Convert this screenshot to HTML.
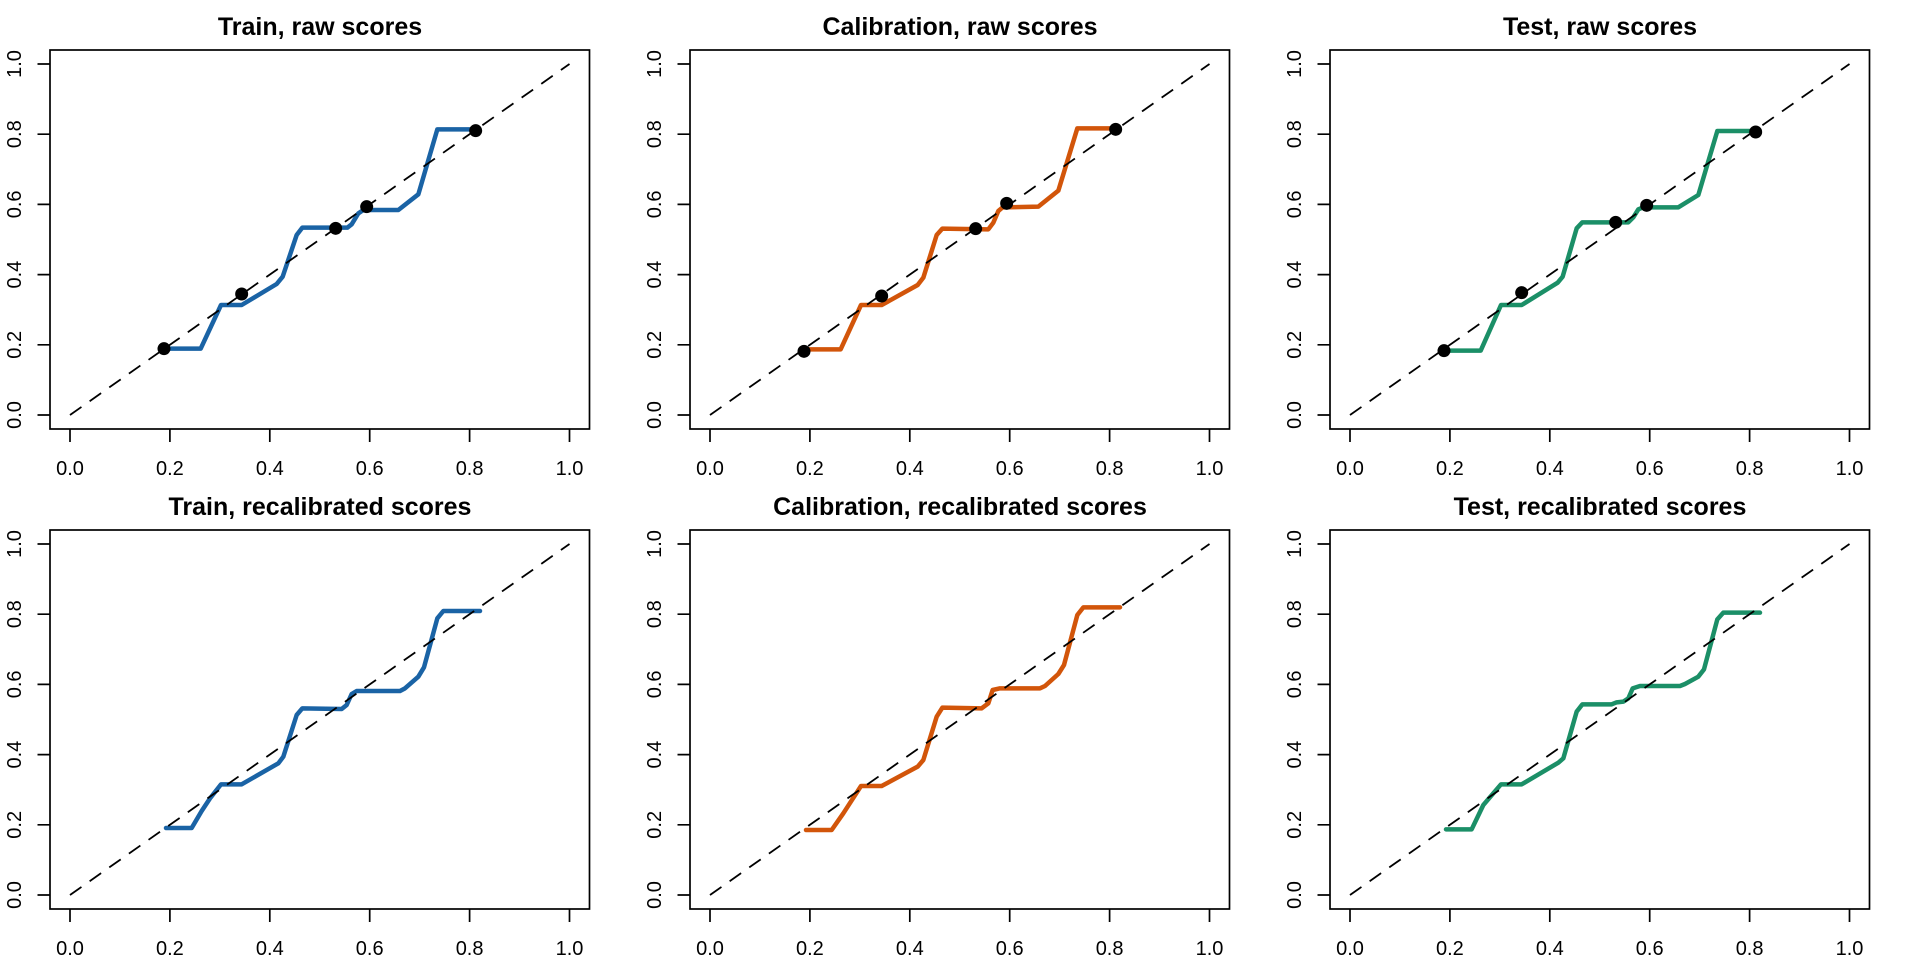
<!DOCTYPE html>
<html>
<head>
<meta charset="utf-8">
<style>
html,body{margin:0;padding:0;background:#fff;}
svg{display:block;}
.t{font-family:"Liberation Sans",Arial,sans-serif;font-weight:bold;font-size:25px;text-anchor:middle;fill:#000;}
.l{font-family:"Liberation Sans",Arial,sans-serif;font-size:20px;text-anchor:middle;fill:#000;}
.ax{fill:none;stroke:#000;stroke-width:1.7;}
.dl{stroke:#000;stroke-width:1.8;stroke-dasharray:14,10;fill:none;}
.cv{fill:none;stroke-width:13.5;stroke-linejoin:round;stroke-linecap:round;}
</style>
</head>
<body>
<svg width="1920" height="960" viewBox="0 0 1920 960" xmlns="http://www.w3.org/2000/svg">
<rect width="1920" height="960" fill="#fff"/>

<!-- ============ Panel 1: Train raw ============ -->
<g transform="translate(0,0)">
<text class="t" x="320" y="35">Train, raw scores</text>
<rect class="ax" x="50" y="50" width="539.5" height="379"/>
<path class="ax" d="M70,429V442M169.9,429V442M269.8,429V442M369.7,429V442M469.6,429V442M569.5,429V442M37.5,415H50M37.5,344.8H50M37.5,274.6H50M37.5,204.4H50M37.5,134.2H50M37.5,64H50"/>
<text class="l" x="70" y="475">0.0</text><text class="l" x="169.9" y="475">0.2</text><text class="l" x="269.8" y="475">0.4</text><text class="l" x="369.7" y="475">0.6</text><text class="l" x="469.6" y="475">0.8</text><text class="l" x="569.5" y="475">1.0</text>
<text class="l" transform="translate(21,415) rotate(-90)">0.0</text><text class="l" transform="translate(21,344.8) rotate(-90)">0.2</text><text class="l" transform="translate(21,274.6) rotate(-90)">0.4</text><text class="l" transform="translate(21,204.4) rotate(-90)">0.6</text><text class="l" transform="translate(21,134.2) rotate(-90)">0.8</text><text class="l" transform="translate(21,64) rotate(-90)">1.0</text>
<g transform="translate(150,100) scale(0.333333)">
<polyline class="cv" stroke="#1A63A5" points="42,746 152,746 213,615 275,615 380,552 398,530 440,405 457,383 592,383 605,373 625,340 640,330 745,330 805,283 862,88 975,88"/>
</g>
<line class="dl" x1="70" y1="415" x2="569.5" y2="64"/>
<g transform="translate(150,100) scale(0.333333)" fill="#000">
<circle cx="42" cy="746" r="19.5"/><circle cx="275" cy="582" r="19.5"/><circle cx="557" cy="385" r="19.5"/><circle cx="650" cy="320" r="19.5"/><circle cx="977" cy="92" r="19.5"/>
</g>
</g>

<!-- ============ Panel 2: Calibration raw ============ -->
<g transform="translate(640,0)">
<text class="t" x="320" y="35">Calibration, raw scores</text>
<rect class="ax" x="50" y="50" width="539.5" height="379"/>
<path class="ax" d="M70,429V442M169.9,429V442M269.8,429V442M369.7,429V442M469.6,429V442M569.5,429V442M37.5,415H50M37.5,344.8H50M37.5,274.6H50M37.5,204.4H50M37.5,134.2H50M37.5,64H50"/>
<text class="l" x="70" y="475">0.0</text><text class="l" x="169.9" y="475">0.2</text><text class="l" x="269.8" y="475">0.4</text><text class="l" x="369.7" y="475">0.6</text><text class="l" x="469.6" y="475">0.8</text><text class="l" x="569.5" y="475">1.0</text>
<text class="l" transform="translate(21,415) rotate(-90)">0.0</text><text class="l" transform="translate(21,344.8) rotate(-90)">0.2</text><text class="l" transform="translate(21,274.6) rotate(-90)">0.4</text><text class="l" transform="translate(21,204.4) rotate(-90)">0.6</text><text class="l" transform="translate(21,134.2) rotate(-90)">0.8</text><text class="l" transform="translate(21,64) rotate(-90)">1.0</text>
<g transform="translate(150,100) scale(0.333333)">
<polyline class="cv" stroke="#D2550A" points="42,748 152,748 213,615 275,615 383,555 400,533 440,405 457,386 595,388 610,368 625,333 638,322 745,320 805,272 862,85 975,85"/>
</g>
<line class="dl" x1="70" y1="415" x2="569.5" y2="64"/>
<g transform="translate(150,100) scale(0.333333)" fill="#000">
<circle cx="42" cy="754" r="19.5"/><circle cx="275" cy="588" r="19.5"/><circle cx="557" cy="386" r="19.5"/><circle cx="650" cy="310" r="19.5"/><circle cx="977" cy="88" r="19.5"/>
</g>
</g>

<!-- ============ Panel 3: Test raw ============ -->
<g transform="translate(1280,0)">
<text class="t" x="320" y="35">Test, raw scores</text>
<rect class="ax" x="50" y="50" width="539.5" height="379"/>
<path class="ax" d="M70,429V442M169.9,429V442M269.8,429V442M369.7,429V442M469.6,429V442M569.5,429V442M37.5,415H50M37.5,344.8H50M37.5,274.6H50M37.5,204.4H50M37.5,134.2H50M37.5,64H50"/>
<text class="l" x="70" y="475">0.0</text><text class="l" x="169.9" y="475">0.2</text><text class="l" x="269.8" y="475">0.4</text><text class="l" x="369.7" y="475">0.6</text><text class="l" x="469.6" y="475">0.8</text><text class="l" x="569.5" y="475">1.0</text>
<text class="l" transform="translate(21,415) rotate(-90)">0.0</text><text class="l" transform="translate(21,344.8) rotate(-90)">0.2</text><text class="l" transform="translate(21,274.6) rotate(-90)">0.4</text><text class="l" transform="translate(21,204.4) rotate(-90)">0.6</text><text class="l" transform="translate(21,134.2) rotate(-90)">0.8</text><text class="l" transform="translate(21,64) rotate(-90)">1.0</text>
<g transform="translate(150,100) scale(0.333333)">
<polyline class="cv" stroke="#1B8F67" points="42,752 152,752 213,615 275,615 383,548 398,530 440,385 457,367 595,367 610,352 625,328 640,322 745,322 805,285 862,93 975,93"/>
</g>
<line class="dl" x1="70" y1="415" x2="569.5" y2="64"/>
<g transform="translate(150,100) scale(0.333333)" fill="#000">
<circle cx="42" cy="752" r="19.5"/><circle cx="275" cy="578" r="19.5"/><circle cx="557" cy="367" r="19.5"/><circle cx="650" cy="316" r="19.5"/><circle cx="977" cy="96" r="19.5"/>
</g>
</g>

<!-- ============ Panel 4: Train recalibrated ============ -->
<g transform="translate(0,480)">
<text class="t" x="320" y="35">Train, recalibrated scores</text>
<rect class="ax" x="50" y="50" width="539.5" height="379"/>
<path class="ax" d="M70,429V442M169.9,429V442M269.8,429V442M369.7,429V442M469.6,429V442M569.5,429V442M37.5,415H50M37.5,344.8H50M37.5,274.6H50M37.5,204.4H50M37.5,134.2H50M37.5,64H50"/>
<text class="l" x="70" y="475">0.0</text><text class="l" x="169.9" y="475">0.2</text><text class="l" x="269.8" y="475">0.4</text><text class="l" x="369.7" y="475">0.6</text><text class="l" x="469.6" y="475">0.8</text><text class="l" x="569.5" y="475">1.0</text>
<text class="l" transform="translate(21,415) rotate(-90)">0.0</text><text class="l" transform="translate(21,344.8) rotate(-90)">0.2</text><text class="l" transform="translate(21,274.6) rotate(-90)">0.4</text><text class="l" transform="translate(21,204.4) rotate(-90)">0.6</text><text class="l" transform="translate(21,134.2) rotate(-90)">0.8</text><text class="l" transform="translate(21,64) rotate(-90)">1.0</text>
<g transform="translate(150,100) scale(0.333333)">
<polyline class="cv" stroke="#1A63A5" points="48,744 125,744 155,693 180,655 213,613 275,613 385,550 400,530 440,405 457,385 575,387 590,375 605,342 620,333 750,333 765,325 805,290 822,262 862,115 880,93 990,93"/>
</g>
<line class="dl" x1="70" y1="415" x2="569.5" y2="64"/>
</g>

<!-- ============ Panel 5: Calibration recalibrated ============ -->
<g transform="translate(640,480)">
<text class="t" x="320" y="35">Calibration, recalibrated scores</text>
<rect class="ax" x="50" y="50" width="539.5" height="379"/>
<path class="ax" d="M70,429V442M169.9,429V442M269.8,429V442M369.7,429V442M469.6,429V442M569.5,429V442M37.5,415H50M37.5,344.8H50M37.5,274.6H50M37.5,204.4H50M37.5,134.2H50M37.5,64H50"/>
<text class="l" x="70" y="475">0.0</text><text class="l" x="169.9" y="475">0.2</text><text class="l" x="269.8" y="475">0.4</text><text class="l" x="369.7" y="475">0.6</text><text class="l" x="469.6" y="475">0.8</text><text class="l" x="569.5" y="475">1.0</text>
<text class="l" transform="translate(21,415) rotate(-90)">0.0</text><text class="l" transform="translate(21,344.8) rotate(-90)">0.2</text><text class="l" transform="translate(21,274.6) rotate(-90)">0.4</text><text class="l" transform="translate(21,204.4) rotate(-90)">0.6</text><text class="l" transform="translate(21,134.2) rotate(-90)">0.8</text><text class="l" transform="translate(21,64) rotate(-90)">1.0</text>
<g transform="translate(150,100) scale(0.333333)">
<polyline class="cv" stroke="#D2550A" points="48,750 125,750 160,700 213,618 275,618 383,560 400,540 440,410 457,383 575,385 595,370 608,330 630,325 750,325 765,318 805,282 822,255 862,105 880,82 990,82"/>
</g>
<line class="dl" x1="70" y1="415" x2="569.5" y2="64"/>
</g>

<!-- ============ Panel 6: Test recalibrated ============ -->
<g transform="translate(1280,480)">
<text class="t" x="320" y="35">Test, recalibrated scores</text>
<rect class="ax" x="50" y="50" width="539.5" height="379"/>
<path class="ax" d="M70,429V442M169.9,429V442M269.8,429V442M369.7,429V442M469.6,429V442M569.5,429V442M37.5,415H50M37.5,344.8H50M37.5,274.6H50M37.5,204.4H50M37.5,134.2H50M37.5,64H50"/>
<text class="l" x="70" y="475">0.0</text><text class="l" x="169.9" y="475">0.2</text><text class="l" x="269.8" y="475">0.4</text><text class="l" x="369.7" y="475">0.6</text><text class="l" x="469.6" y="475">0.8</text><text class="l" x="569.5" y="475">1.0</text>
<text class="l" transform="translate(21,415) rotate(-90)">0.0</text><text class="l" transform="translate(21,344.8) rotate(-90)">0.2</text><text class="l" transform="translate(21,274.6) rotate(-90)">0.4</text><text class="l" transform="translate(21,204.4) rotate(-90)">0.6</text><text class="l" transform="translate(21,134.2) rotate(-90)">0.8</text><text class="l" transform="translate(21,64) rotate(-90)">1.0</text>
<g transform="translate(150,100) scale(0.333333)">
<polyline class="cv" stroke="#1B8F67" points="48,748 125,748 160,675 213,613 275,613 385,548 400,535 440,395 457,373 545,373 560,367 580,365 595,355 608,325 630,318 750,318 765,312 805,290 822,268 862,118 880,98 990,98"/>
</g>
<line class="dl" x1="70" y1="415" x2="569.5" y2="64"/>
</g>

</svg>
</body>
</html>
